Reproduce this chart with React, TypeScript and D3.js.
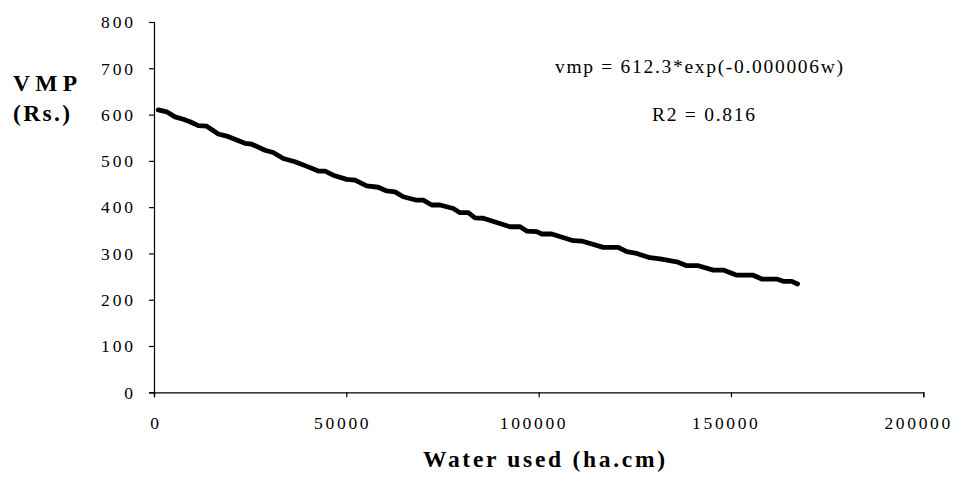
import React, { useEffect, useRef } from "react";
import * as d3 from "d3";

const waterUsed = [
  1100, 3300, 5460, 7620, 9360, 11520, 13700, 16720, 18900, 21500, 23660, 25400,
  28860, 31000, 33600, 36660, 40100, 42700, 44460, 46600, 50100, 52260, 55300,
  58300, 60500, 62660, 64800, 68300, 70000, 72200, 74360, 77800, 79560, 81700,
  83460, 85600, 92560, 95160, 96900, 99500, 100800, 103400, 109000, 111200,
  116800, 120700, 122900, 125500, 128960, 131560, 135900, 138500, 141500,
  145400, 148000, 151500, 155800, 158000, 161900, 163600, 165800, 167300,
];
const vmpValues = [
  610, 606, 595, 590, 584.5, 576, 575, 558, 553.6, 545, 538, 536, 523, 518, 505,
  498, 487, 478, 478, 469, 460, 458.6, 446, 443, 435, 433, 422.5, 415, 415,
  404.6, 404.6, 397, 388, 388, 377, 376, 357.7, 357.7, 348.4, 347, 342, 342,
  327.5, 326.8, 313, 313, 303.7, 300, 290.7, 288, 282, 273.5, 273.5, 264, 264,
  253, 253, 244.7, 244.7, 239.8, 239.8, 234,
];
const xTicks = [0, 50000, 100000, 150000, 200000];
const yTicks = [0, 100, 200, 300, 400, 500, 600, 700, 800];
const equationText = "vmp = 612.3*exp(-0.000006w)";
const r2Text = "R2 = 0.816";
const yTitle = ["VMP", "(Rs.)"];
const xTitle = "Water used (ha.cm)";

const FONT = "Liberation Serif, Times New Roman, serif";

export default function App() {
  const ref = useRef<SVGSVGElement>(null);

  useEffect(() => {
    const svg = d3.select(ref.current);
    svg.selectAll("*").remove();

    const x = d3.scaleLinear().domain([0, 200000]).range([154, 923.3]);
    const y = d3.scaleLinear().domain([0, 800]).range([392.3, 22]);

    const tl = (s: string) => s.length * 11.3 - 2;

    // Y axis
    const gy = svg
      .append("g")
      .attr("transform", "translate(154,0)")
      .call(
        d3
          .axisLeft(y)
          .tickValues(yTicks)
          .tickSize(5)
          .tickSizeOuter(5)
          .tickPadding(16)
          .tickFormat((d) => String(d))
      );
    gy.attr("font-family", FONT);
    gy.select(".domain").attr("stroke", "#000").attr("stroke-width", 1.2);
    gy.selectAll(".tick line").attr("stroke", "#000").attr("stroke-width", 1.2);
    gy.selectAll<SVGTextElement, number>(".tick text")
      .style("font-family", FONT)
      .attr("font-size", 17.5)
      .attr("fill", "#000")
      .attr("dy", "0.33em")
      .each(function (d) {
        const s = String(d);
        if (s.length > 1) {
          d3.select(this).attr("textLength", tl(s)).attr("lengthAdjust", "spacing");
        }
      });

    // X axis
    const gx = svg
      .append("g")
      .attr("transform", "translate(0,392.3)")
      .call(
        d3
          .axisBottom(x)
          .tickValues(xTicks)
          .tickSize(5)
          .tickSizeOuter(5)
          .tickFormat((d) => String(d))
      );
    gx.attr("font-family", FONT);
    gx.select(".domain").attr("stroke", "#000").attr("stroke-width", 1.2);
    gx.selectAll(".tick line").attr("stroke", "#000").attr("stroke-width", 1.2);
    gx.selectAll<SVGTextElement, number>(".tick text")
      .style("font-family", FONT)
      .attr("font-size", 17.5)
      .attr("fill", "#000")
      .attr("y", 36.7)
      .attr("dy", "0")
      .each(function (d) {
        const s = String(d);
        if (s.length > 1) {
          d3.select(this)
            .attr("dx", -(s.length + 0.5))
            .attr("textLength", tl(s))
            .attr("lengthAdjust", "spacing");
        }
      });

    // Data line
    const data = waterUsed.map((w, i) => [w, vmpValues[i]] as [number, number]);
    svg
      .append("path")
      .datum(data)
      .attr("fill", "none")
      .attr("stroke", "#000")
      .attr("stroke-width", 4.8)
      .attr("stroke-linejoin", "round")
      .attr("stroke-linecap", "round")
      .attr(
        "d",
        d3
          .line<[number, number]>()
          .x((d) => x(d[0]))
          .y((d) => y(d[1]))
      );

    const addText = (
      s: string,
      px: number,
      py: number,
      size: number,
      len: number,
      bold = false
    ) =>
      svg
        .append("text")
        .attr("x", px)
        .attr("y", py)
        .style("font-family", FONT)
        .attr("font-size", size)
        .attr("font-weight", bold ? "bold" : "normal")
        .attr("fill", "#000")
        .attr("textLength", len)
        .attr("lengthAdjust", "spacing")
        .text(s);

    addText(equationText, 555, 73, 19.5, 288);
    addText(r2Text, 652, 121, 19.5, 103);
    addText(yTitle[0], 13, 90.5, 23.5, 64, true);
    addText(yTitle[1], 13, 120.5, 23.5, 57, true);
    addText(xTitle, 423, 466.7, 23.5, 242, true);
  }, []);

  return (
    <svg
      ref={ref}
      width={954}
      height={481}
      style={{ position: "fixed", left: 0, top: 0, background: "#fff" }}
    />
  );
}
